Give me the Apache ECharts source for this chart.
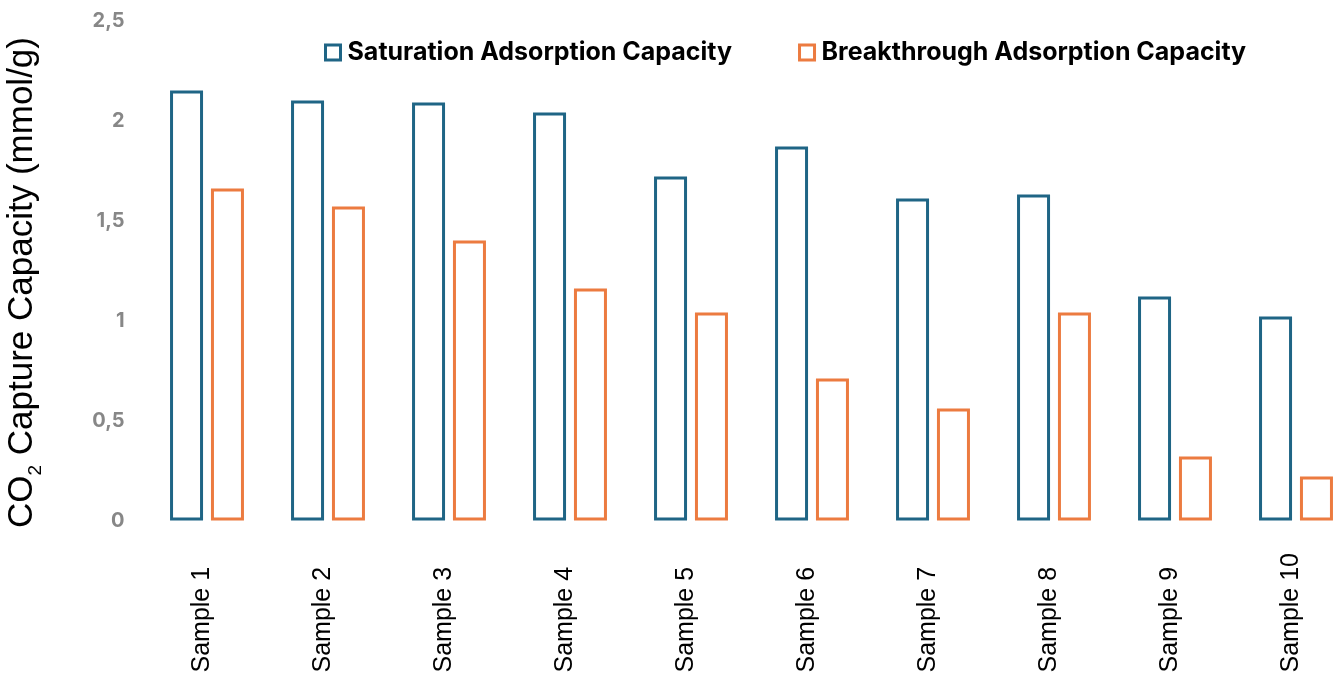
<!DOCTYPE html>
<html>
<head>
<meta charset="utf-8">
<title>CO2 Capture Capacity</title>
<script src="https://cdn.jsdelivr.net/npm/echarts@6/dist/echarts.min.js"></script>
<style>
  html, body { margin: 0; padding: 0; background: #ffffff; overflow: hidden; }
  /* the last category band runs a little past the right edge of the view */
  #chart { width: 1360px; height: 675px; }
</style>
</head>
<body>
<div id="chart"></div>
<script>
// Sample names along the horizontal axis
const categories = ['Sample 1', 'Sample 2', 'Sample 3', 'Sample 4', 'Sample 5',
                    'Sample 6', 'Sample 7', 'Sample 8', 'Sample 9', 'Sample 10'];

// CO2 capture capacity, mmol/g
const saturationCapacity   = [2.15, 2.10, 2.09, 2.04, 1.72, 1.87, 1.61, 1.63, 1.12, 1.02];
const breakthroughCapacity = [1.66, 1.57, 1.40, 1.16, 1.04, 0.71, 0.56, 1.04, 0.32, 0.22];

const seriesNames = ['Saturation Adsorption Capacity', 'Breakthrough Adsorption Capacity'];

// Value axis ticks
const yTicks = [0, 0.5, 1, 1.5, 2, 2.5];

const TEAL = '#1f6585';
const ORANGE = '#ec7b40';

const chart = echarts.init(document.getElementById('chart'), null, { renderer: 'canvas' });

// Hollow bar: white fill with a coloured 3px outline
function outlinedBar(name, data, color) {
  return {
    name: name,
    type: 'bar',
    data: data,
    barWidth: 33,
    barGap: '24%',
    itemStyle: { color: '#ffffff', borderColor: color, borderWidth: 3 },
    emphasis: { disabled: true },
    animation: false
  };
}

chart.setOption({
  backgroundColor: '#ffffff',
  animation: false,
  grid: {
    left: 146.5, top: 20.5, width: 1210, height: 500,
    containLabel: false,
    outerBoundsMode: 'none'
  },
  legend: {
    data: seriesNames,
    left: 324,
    top: 40,
    padding: 0,
    icon: 'rect',
    itemWidth: 15,
    itemHeight: 15,
    itemGap: 66,
    itemStyle: { borderWidth: 3 },
    textStyle: { fontFamily: 'Inter', fontWeight: 'bold', fontSize: 25, color: '#000000', padding: [0, 0, 0, 2] }
  },
  xAxis: {
    type: 'category',
    data: categories,
    axisLine: { show: false },
    axisTick: { show: false },
    axisLabel: {
      interval: 0,
      rotate: 90,
      align: 'left',
      verticalAlign: 'bottom',
      lineHeight: 10,
      margin: 152,
      fontFamily: 'Liberation Sans',
      fontSize: 25,
      color: '#000000'
    }
  },
  yAxis: {
    type: 'value',
    min: yTicks[0],
    max: yTicks[yTicks.length - 1],
    interval: yTicks[1] - yTicks[0],
    splitLine: { show: false },
    axisLine: { show: false },
    axisTick: { show: false },
    axisLabel: {
      margin: 22,
      fontFamily: 'Inter',
      fontWeight: 'bold',
      fontSize: 20,
      color: '#878787',
      formatter: v => String(v).replace('.', ',')
    },
    name: '{m|CO}{s|2}{m| Capture Capacity (mmol/g)}',
    nameLocation: 'middle',
    nameRotate: 90,
    nameGap: 107,
    nameTextStyle: {
      padding: [0, 24, 0, 0],
      rich: {
        m: { fontFamily: 'Liberation Sans', fontSize: 35, lineHeight: 35, verticalAlign: 'top', color: '#000000' },
        s: { fontFamily: 'Liberation Sans', fontSize: 19, lineHeight: 19, verticalAlign: 'top', padding: [22, 0, 0, 0], color: '#000000' }
      }
    }
  },
  series: [
    outlinedBar(seriesNames[0], saturationCapacity, TEAL),
    outlinedBar(seriesNames[1], breakthroughCapacity, ORANGE)
  ]
});
</script>
</body>
</html>
